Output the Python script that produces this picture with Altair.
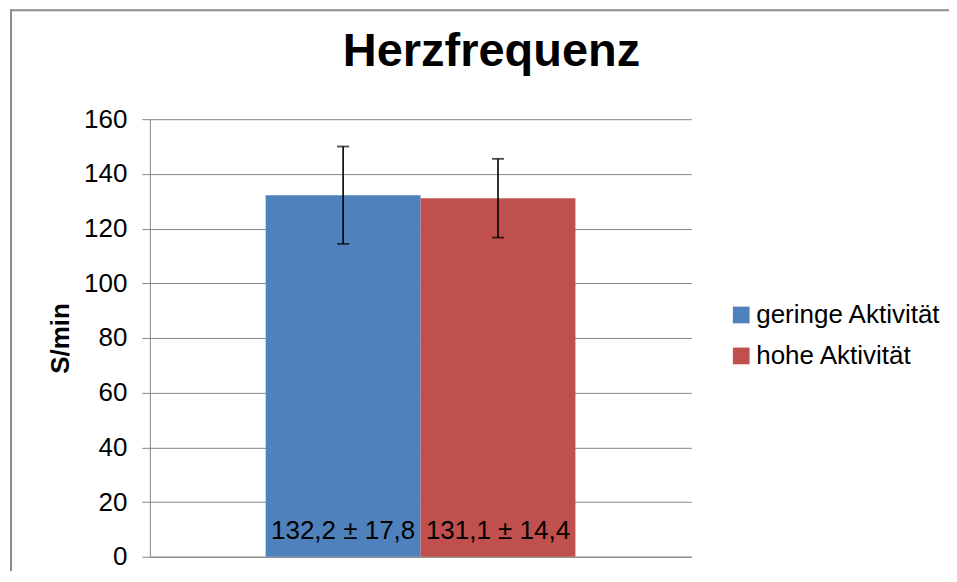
import altair as alt
import pandas as pd

groups = ["geringe Aktivität", "hohe Aktivität"]
means = [132.2, 131.1]
sds = [17.8, 14.4]
colors = ["#4F81BD", "#C0504D"]
y_ticks = [0, 20, 40, 60, 80, 100, 120, 140, 160]


def de(v):
    return f"{v:.1f}".replace(".", ",")


df = pd.DataFrame({"Gruppe": groups, "Mittel": means, "SD": sds})
df["lo"] = df["Mittel"] - df["SD"]
df["hi"] = df["Mittel"] + df["SD"]
df["label"] = [f"{de(m)} ± {de(s)}" for m, s in zip(means, sds)]
df["zero"] = 0

FONT = "Liberation Sans"
GRID = "#868686"
FS = 26

x = alt.X(
    "Gruppe:N",
    sort=groups,
    scale=alt.Scale(paddingInner=0, paddingOuter=0.748),
    axis=alt.Axis(labels=False, ticks=False, title=None, domain=True,
                  domainColor=GRID, grid=False),
)

base = alt.Chart(df)

bars = base.mark_bar().encode(
    x=x,
    y=alt.Y(
        "Mittel:Q",
        scale=alt.Scale(domain=[0, 160]),
        axis=alt.Axis(
            values=y_ticks, title="S/min", titleFontSize=FS, titleFont=FONT,
            titleFontWeight="bold", titleColor="black", labelFontSize=FS,
            labelFont=FONT, labelColor="black", labelPadding=15, tickSize=8,
            tickColor=GRID, domainColor=GRID, gridColor=GRID, titlePadding=10,
        ),
    ),
    color=alt.Color(
        "Gruppe:N",
        sort=groups,
        scale=alt.Scale(domain=groups, range=colors),
        legend=alt.Legend(
            title=None, orient="none", legendX=579, legendY=183,
            symbolType="square", symbolSize=280, symbolStrokeWidth=0,
            labelFontSize=26, labelFont=FONT, labelColor="black",
            rowPadding=15, padding=0, labelOffset=2, labelLimit=400,
        ),
    ),
)

rules = base.mark_rule(color="black", strokeWidth=1.6).encode(
    x=x, y="lo:Q", y2="hi:Q"
)
cap_hi = base.mark_tick(color="black", size=12, thickness=1.8).encode(x=x, y="hi:Q")
cap_lo = base.mark_tick(color="black", size=12, thickness=1.8).encode(x=x, y="lo:Q")

labels = base.mark_text(fontSize=FS, font=FONT, color="black",
                        baseline="middle", dy=-26).encode(
    x=x, y="zero:Q", text="label:N"
)

one = pd.DataFrame({"b": [0]})
border_left = alt.Chart(one).mark_rule(color="#8c8c8c", strokeWidth=2).encode(
    x=alt.value(-139), y=alt.value(-110), y2=alt.value(460)
)
border_top = alt.Chart(one).mark_rule(color="#8c8c8c", strokeWidth=2).encode(
    x=alt.value(-140), x2=alt.value(806), y=alt.value(-109)
)

chart = alt.layer(border_left, border_top, bars, rules, cap_hi, cap_lo, labels).properties(
    width=542,
    height=438,
    title=alt.Title("Herzfrequenz", fontSize=47, font=FONT, fontWeight="bold",
                    color="black", anchor="middle", dx=71, offset=-68),
    autosize=alt.AutoSizeParams(type="none"),
    padding={"left": 142, "top": 111, "right": 258, "bottom": 14},
).configure_view(stroke=None)

chart.save("out.html", embed_options={"renderer": "svg", "actions": False})
